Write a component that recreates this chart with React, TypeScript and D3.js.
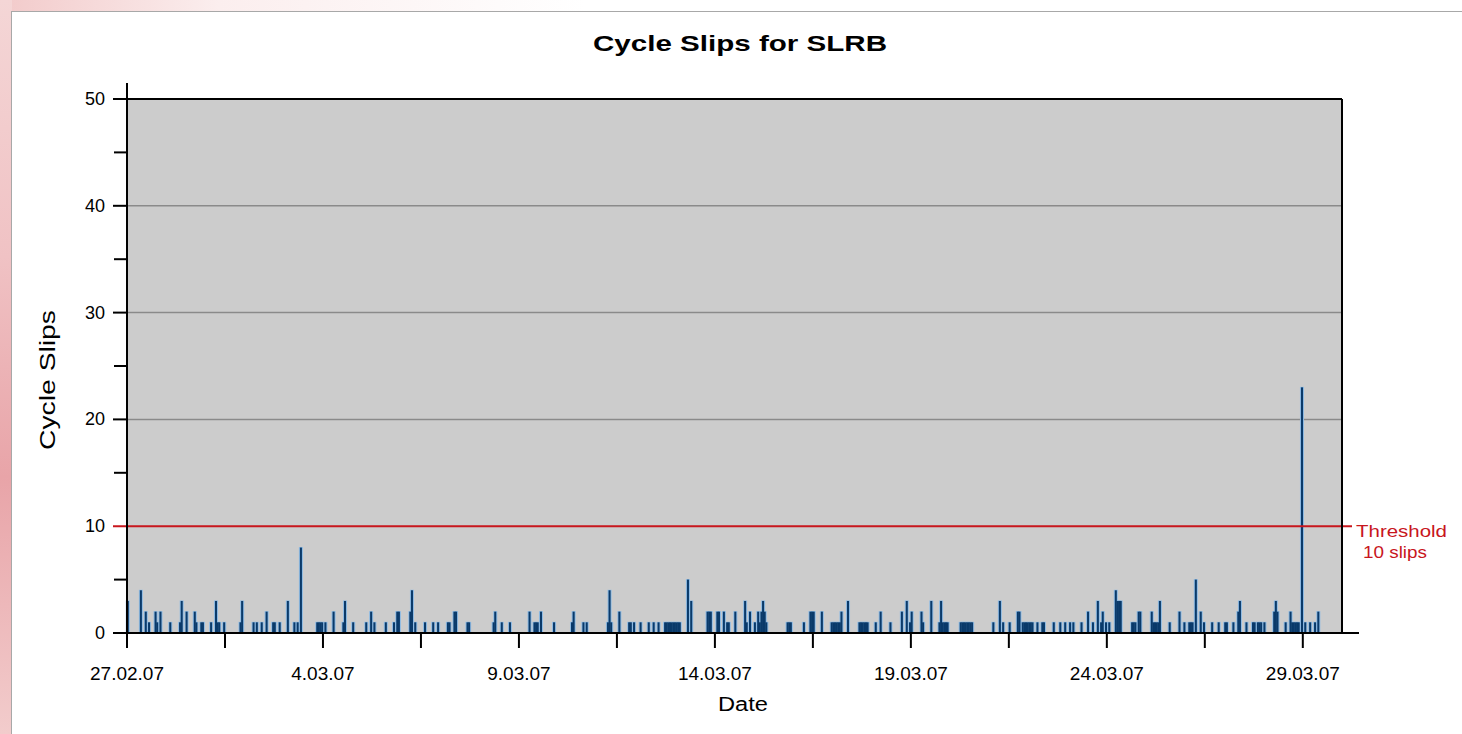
import React from "react";
import * as d3 from "d3";

// ---- data ----
const chartTitle = "Cycle Slips for SLRB";
const yAxisTitle = "Cycle Slips";
const xAxisTitle = "Date";
const thresholdValue = 10;
const thresholdLabel = ["Threshold", "10 slips"];
const startDate = Date.UTC(2007, 1, 27);
const endDate = Date.UTC(2007, 2, 30);
const yTicksMajor = [0, 10, 20, 30, 40, 50];
const yTicksMinor = [5, 15, 25, 35, 45];
const xTickLabels = ["27.02.07", "4.03.07", "9.03.07", "14.03.07", "19.03.07", "24.03.07", "29.03.07"];
// hour offsets from 27.02.07 00:00 (hourly bins) and slip counts
const slipHours = [
  0, 8, 11, 13, 17, 18, 20, 26, 32, 33, 36, 41, 42, 45, 46, 51, 54, 55, 56, 59,
  69, 70, 77, 79, 82, 85, 89, 90, 93, 98, 102, 104, 106, 116, 117, 118, 119, 121,
  126, 132, 133, 138, 146, 149, 151, 158, 163, 165, 166, 173, 174, 176, 182, 187,
  190, 196, 197, 200, 201, 208, 209, 224, 225, 229, 234, 246, 249, 250, 251, 253,
  261, 272, 273, 279, 281, 294, 295, 296, 301, 307, 308, 310, 314, 319, 322, 325,
  329, 330, 331, 332, 333, 334, 335, 336, 337, 338, 343, 345, 355, 356, 357, 361,
  362, 365, 367, 368, 372, 378, 379, 381, 384, 386, 387, 388, 389, 390, 391, 404,
  405, 406, 414, 418, 419, 420, 425, 431, 432, 433, 434, 435, 436, 437, 441, 448,
  449, 450, 451, 452, 453, 458, 461, 467, 474, 477, 479, 480, 486, 487, 492, 497,
  498, 499, 500, 501, 502, 510, 511, 512, 513, 514, 515, 516, 517, 530, 534, 536,
  540, 545, 546, 548, 549, 550, 551, 552, 553, 554, 557, 560, 561, 567, 571, 574,
  577, 579, 584, 588, 591, 594, 596, 597, 599, 601, 605, 606, 607, 608, 615, 616,
  617, 619, 620, 627, 628, 629, 630, 631, 632, 638, 644, 647, 650, 651, 652, 654,
  657, 659, 664, 668, 672, 673, 677, 680, 681, 685, 689, 690, 692, 693, 694, 696,
  702, 703, 704, 709, 712, 713, 714, 715, 716, 717, 719, 721, 724, 727, 729,
];
const slipCounts = [
  3, 4, 2, 1, 2, 1, 2, 1, 1, 3, 2, 2, 1, 1, 1, 1, 3, 1, 1, 1,
  1, 3, 1, 1, 1, 2, 1, 1, 1, 3, 1, 1, 8, 1, 1, 1, 1, 1,
  2, 1, 3, 1, 1, 2, 1, 1, 1, 2, 2, 2, 4, 1, 1, 1,
  1, 1, 1, 2, 2, 1, 1, 1, 2, 1, 1, 2, 1, 1, 1, 2,
  1, 1, 2, 1, 1, 1, 4, 1, 2, 1, 1, 1, 1, 1, 1, 1,
  1, 1, 1, 1, 1, 1, 1, 1, 1, 1, 5, 3, 2, 2, 2, 2,
  2, 2, 1, 1, 2, 3, 1, 2, 1, 2, 1, 2, 3, 2, 1, 1,
  1, 1, 1, 2, 2, 2, 2, 1, 1, 1, 1, 1, 1, 2, 3, 1,
  1, 1, 1, 1, 1, 1, 2, 1, 2, 3, 1, 2, 2, 1, 3, 1,
  3, 1, 1, 1, 1, 1, 1, 1, 1, 1, 1, 1, 1, 1, 3, 1,
  1, 2, 2, 1, 1, 1, 1, 1, 1, 1, 1, 1, 1, 1, 1, 1,
  1, 1, 1, 2, 1, 3, 1, 2, 1, 1, 4, 3, 3, 3, 1, 1,
  1, 2, 2, 2, 1, 1, 1, 1, 3, 1, 2, 1, 1, 1, 1, 5,
  2, 1, 1, 1, 1, 1, 1, 2, 3, 1, 1, 1, 1, 1, 1, 1,
  2, 3, 2, 1, 2, 1, 1, 1, 1, 1, 23, 1, 1, 1, 2,
];

const FONT = "'Liberation Sans', Arial, Helvetica, sans-serif";
const HOUR = 3600 * 1000;
const DAY = 24 * HOUR;

export default function App() {
  const W = 1462;
  const H = 734;
  const left = 127, right = 1342, top = 99, bottom = 633;

  const x = d3.scaleUtc().domain([startDate, endDate]).range([left, right]);
  const y = d3.scaleLinear().domain([0, 50]).range([bottom, top]);

  const majorTicks = xTickLabels.map((_, i) => startDate + i * 5 * DAY);
  const allXTicks = d3.range(0, 13).map((i) => startDate + i * 2.5 * DAY);

  const bars = slipHours.map((h, i) => ({ t: startDate + h * HOUR, v: slipCounts[i] }));

  return (
    <svg width={W} height={H} style={{ position: "absolute", left: 0, top: 0, background: "#fff" }}>
      <defs>
        <linearGradient id="leftStrip" x1="0" y1="0" x2="0" y2="1">
          <stop offset="0" stopColor="#f4d6d6" />
          <stop offset="0.35" stopColor="#f0c2c4" />
          <stop offset="0.65" stopColor="#e8a4a8" />
          <stop offset="1" stopColor="#f2cccc" />
        </linearGradient>
        <linearGradient id="topStrip" x1="0" y1="0" x2="1" y2="0">
          <stop offset="0" stopColor="#f2caca" />
          <stop offset="0.15" stopColor="#fbeeee" />
          <stop offset="0.4" stopColor="#ffffff" />
          <stop offset="1" stopColor="#ffffff" />
        </linearGradient>
      </defs>
      <rect x={0} y={0} width={W} height={12} fill="url(#topStrip)" />
      <rect x={0} y={0} width={12} height={H} fill="url(#leftStrip)" />
      <rect x={11.5} y={11.5} width={W} height={H} fill="#ffffff" stroke="#a8a8a8" strokeWidth={1} />

      {/* title */}
      <text x={740} y={51} textAnchor="middle" fontFamily={FONT} fontWeight="bold" fontSize={22}
        textLength={294} lengthAdjust="spacingAndGlyphs" fill="#000">{chartTitle}</text>

      {/* plot background */}
      <rect x={left} y={top} width={right - left} height={bottom - top} fill="#cccccc" />

      {/* gridlines */}
      {yTicksMajor.filter((v) => v > 0 && v < 50 && v !== thresholdValue).map((v) => (
        <line key={"g" + v} x1={left} x2={right} y1={y(v)} y2={y(v)} stroke="#8a8a8a" strokeWidth={1.5} />
      ))}

      {/* bars: light halo then dark core */}
      {bars.map((b, i) => {
        const x0 = x(b.t);
        const w = x(b.t + HOUR) - x0;
        return (
          <rect key={"h" + i} x={x0 - 1.2} y={y(b.v) - 0.5} width={w + 2.4} height={y(0) - y(b.v) + 0.5} fill="#8fbbe3" />
        );
      })}
      {bars.map((b, i) => {
        const x0 = x(b.t);
        const w = x(b.t + HOUR) - x0;
        return (
          <rect key={"b" + i} x={x0 - 0.2} y={y(b.v)} width={Math.max(w + 0.4, 2)} height={y(0) - y(b.v)} fill="#0a3a6a" />
        );
      })}

      {/* threshold */}
      <line x1={113} x2={1352} y1={y(thresholdValue)} y2={y(thresholdValue)} stroke="#c8161d" strokeWidth={2} />
      <text x={1356} y={537} fontFamily={FONT} fontSize={17} fill="#c8161d"
        textLength={91} lengthAdjust="spacingAndGlyphs">{thresholdLabel[0]}</text>
      <text x={1363} y={558} fontFamily={FONT} fontSize={17} fill="#c8161d"
        textLength={64} lengthAdjust="spacingAndGlyphs">{thresholdLabel[1]}</text>

      {/* plot frame: top & right */}
      <line x1={left} x2={right} y1={top} y2={top} stroke="#000" strokeWidth={2} />
      <line x1={right} x2={right} y1={top} y2={bottom} stroke="#000" strokeWidth={2} />

      {/* y axis */}
      <line x1={left} x2={left} y1={83} y2={bottom + 1} stroke="#000" strokeWidth={2} />
      {yTicksMajor.filter((v) => v !== thresholdValue).map((v) => (
        <line key={"ym" + v} x1={113} x2={left} y1={y(v)} y2={y(v)} stroke="#000" strokeWidth={2} />
      ))}
      {yTicksMinor.map((v) => (
        <line key={"yn" + v} x1={114} x2={left} y1={y(v)} y2={y(v)} stroke="#000" strokeWidth={2} />
      ))}
      {yTicksMajor.map((v) => (
        <text key={"yl" + v} x={105} y={y(v) + 6} textAnchor="end" fontFamily={FONT} fontSize={18} fill="#000">{v}</text>
      ))}
      <text transform={`translate(55,380) rotate(-90)`} textAnchor="middle" fontFamily={FONT} fontSize={22}
        textLength={140} lengthAdjust="spacingAndGlyphs" fill="#000">{yAxisTitle}</text>

      {/* x axis */}
      <line x1={left} x2={1359} y1={bottom} y2={bottom} stroke="#000" strokeWidth={2} />
      {allXTicks.map((t, i) => (
        <line key={"xt" + i} x1={x(t)} x2={x(t)} y1={bottom} y2={648} stroke="#000" strokeWidth={2} />
      ))}
      {majorTicks.map((t, i) => (
        <text key={"xl" + i} x={x(t)} y={680} textAnchor="middle" fontFamily={FONT} fontSize={19} fill="#000">{xTickLabels[i]}</text>
      ))}
      <text x={743} y={711} textAnchor="middle" fontFamily={FONT} fontSize={20}
        textLength={50} lengthAdjust="spacingAndGlyphs" fill="#000">{xAxisTitle}</text>
    </svg>
  );
}
